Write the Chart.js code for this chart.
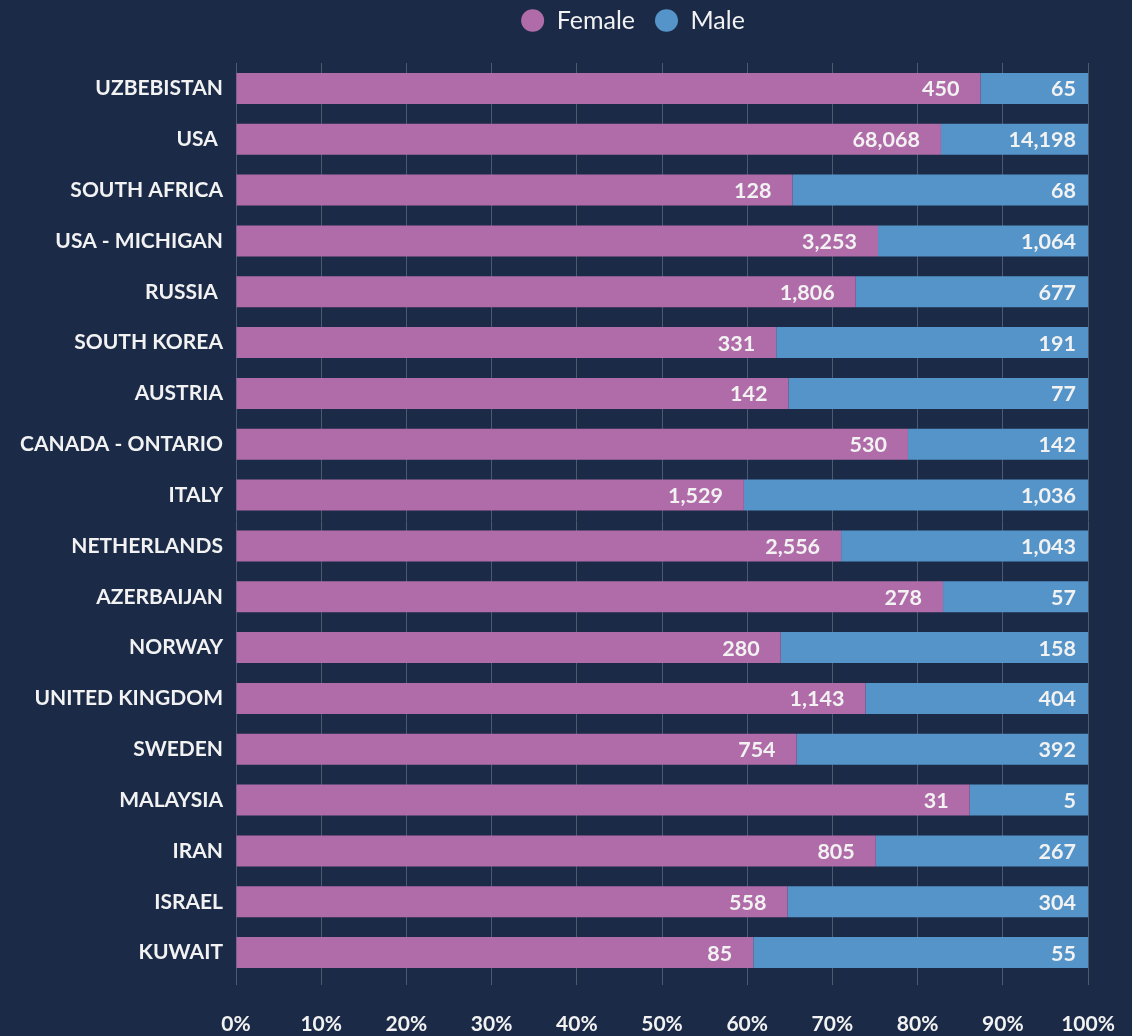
<!DOCTYPE html>
<html>
<head>
<meta charset="utf-8">
<title>Female / Male by country</title>
<script src="https://cdn.jsdelivr.net/npm/chart.js@4.4.1/dist/chart.umd.min.js"></script>
<style>
  html, body { margin: 0; padding: 0; background: #1b2a47; }
  #wrap { width: 1132px; height: 1036px; }
</style>
</head>
<body>
<div id="wrap"><canvas id="chart"></canvas></div>
<script>
// Countries, top to bottom
const countries = [
  'UZBEBISTAN', 'USA ', 'SOUTH AFRICA', 'USA - MICHIGAN', 'RUSSIA ', 'SOUTH KOREA',
  'AUSTRIA', 'CANADA - ONTARIO', 'ITALY', 'NETHERLANDS', 'AZERBAIJAN', 'NORWAY',
  'UNITED KINGDOM', 'SWEDEN', 'MALAYSIA', 'IRAN', 'ISRAEL', 'KUWAIT'
];

// Counts shown inside the bars
const female = [450, 68068, 128, 3253, 1806, 331, 142, 530, 1529, 2556, 278, 280, 1143, 754, 31, 805, 558, 85];
const male = [65, 14198, 68, 1064, 677, 191, 77, 142, 1036, 1043, 57, 158, 404, 392, 5, 267, 304, 55];

const xTicks = [0, 10, 20, 30, 40, 50, 60, 70, 80, 90, 100];

// bars are 100% stacked, so turn counts into shares
const femalePct = female.map((f, i) => f / (f + male[i]) * 100);
const malePct = male.map((m, i) => m / (female[i] + m) * 100);

const FONT = 'Lato, "Open Sans", sans-serif';
const TEXT = '#f2f2f2';

// writes the count near the right end of each bar
const barLabels = {
  id: 'barLabels',
  afterDatasetsDraw(chart) {
    const ctx = chart.ctx;
    const raw = [female, male];
    const pad = [21, 12];
    ctx.save();
    ctx.font = 'bold 21.5px ' + FONT;
    ctx.fillStyle = TEXT;
    ctx.textAlign = 'right';
    ctx.textBaseline = 'middle';
    chart.data.datasets.forEach((ds, d) => {
      chart.getDatasetMeta(d).data.forEach((bar, i) => {
        ctx.fillText(raw[d][i].toLocaleString('en-US'), bar.x - pad[d], bar.y + 1);
      });
    });
    ctx.restore();
  }
};

// room under the legend, and the legend sits a bit right of centre
const legendGap = {
  id: 'legendGap',
  beforeInit(chart) {
    const fit = chart.legend.fit;
    chart.legend.fit = function () {
      fit.bind(chart.legend)();
      this.height += 8;
    };
  },
  afterLayout(chart) {
    chart.legend.left += 89;
    chart.legend.right += 89;
    chart.legend.top -= 12;
    chart.legend.bottom -= 12;
  }
};

new Chart(document.getElementById('chart'), {
  type: 'bar',
  data: {
    labels: countries,
    datasets: [
      { label: 'Female', data: femalePct, backgroundColor: '#b06ca9', borderWidth: 0 },
      { label: 'Male', data: malePct, backgroundColor: '#5494c8', borderWidth: 0 }
    ]
  },
  plugins: [barLabels, legendGap],
  options: {
    indexAxis: 'y',
    responsive: true,
    maintainAspectRatio: false,
    animation: false,
    events: [],
    layout: { padding: { left: 0, right: 44, top: 0, bottom: 0 } },
    datasets: {
      bar: { categoryPercentage: 1, barPercentage: 0.61 }
    },
    plugins: {
      tooltip: { enabled: false },
      legend: {
        position: 'top',
        labels: {
          usePointStyle: true,
          pointStyle: 'circle',
          pointStyleWidth: 23,
          boxHeight: 16,
          color: TEXT,
          font: { family: FONT, size: 25 },
          padding: 20
        }
      }
    },
    scales: {
      x: {
        stacked: true,
        min: 0,
        max: 100,
        afterBuildTicks(scale) {
          scale.ticks = xTicks.map(v => ({ value: v }));
        },
        afterFit(scale) {
          scale.height = 58;
          scale.paddingLeft = 0;
          scale.paddingRight = 0;
        },
        border: { display: false },
        grid: { color: '#4d5970', lineWidth: 1, drawTicks: true, tickLength: 7 },
        ticks: {
          color: TEXT,
          padding: 27,
          font: { family: FONT, size: 21, weight: 'bold' },
          callback: v => v + '%'
        }
      },
      y: {
        stacked: true,
        afterFit(scale) { scale.width = 236; },
        border: { display: false },
        grid: { display: false, drawTicks: false },
        ticks: {
          color: TEXT,
          padding: 13,
          font: { family: FONT, size: 21, weight: 'bold' }
        }
      }
    }
  }
});
</script>
</body>
</html>
